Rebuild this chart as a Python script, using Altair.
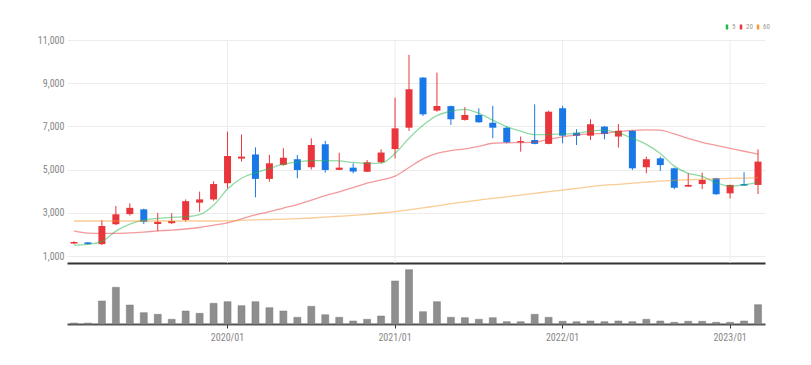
import altair as alt
import pandas as pd

months = ["2019/02","2019/03","2019/04","2019/05","2019/06","2019/07","2019/08","2019/09","2019/10","2019/11","2019/12",
          "2020/01","2020/02","2020/03","2020/04","2020/05","2020/06","2020/07","2020/08","2020/09","2020/10","2020/11","2020/12",
          "2021/01","2021/02","2021/03","2021/04","2021/05","2021/06","2021/07","2021/08","2021/09","2021/10","2021/11","2021/12",
          "2022/01","2022/02","2022/03","2022/04","2022/05","2022/06","2022/07","2022/08","2022/09","2022/10","2022/11","2022/12",
          "2023/01","2023/02","2023/03"]

open_ = [1580,1630,1550,2470,2940,3160,2480,2520,2670,3470,3620,
         4370,5510,5700,4570,5220,5480,5110,6170,4990,5090,4900,5340,
         5950,6940,9260,7730,7940,7300,7530,7170,6940,6260,6370,6190,
         7840,6710,6570,6990,6530,6800,5110,5520,5060,4210,4330,4600,
         3900,4330,4290]
high = [1680,1650,2670,3320,3440,3190,3000,2980,3620,3980,4460,
        6760,6620,6030,5680,5990,5680,6450,6330,5780,5290,5440,5940,
        8330,10310,9280,9490,7960,7890,7840,7950,6990,6530,8020,7730,
        7950,6870,7330,7020,7110,6820,5600,5600,5090,4830,4860,4620,
        4300,4880,5940]
low = [1550,1530,1500,2430,2870,2480,2150,2480,2600,3050,3560,
       4130,5370,3720,4440,5180,4600,5010,4860,4980,4830,4890,5290,
       5520,6790,7480,7680,7070,7270,7170,6450,6220,5830,6170,6170,
       6220,6140,6370,6400,6020,4980,4830,4940,4090,4200,4100,3830,
       3670,4240,3870]
close = [1650,1550,2390,2930,3230,2580,2580,2620,3540,3620,4330,
         5630,5600,4570,5290,5550,4980,6140,4980,5090,4910,5340,5790,
         6910,8720,7560,7945,7330,7530,7190,6940,6260,6320,6190,7680,
         6570,6570,7100,6650,6800,5060,5480,5210,4160,4290,4520,3860,
         4290,4260,5370]

ma5 = [1500,1540,1680,2150,2480,2660,2740,2790,2820,2920,3350,
       4100,4600,4850,5050,5250,5350,5420,5420,5400,5330,5290,5300,
       5750,6450,7050,7500,7700,7790,7600,7290,6990,6780,6620,6620,
       6650,6680,6780,6830,6700,6450,6170,5750,5160,4830,4690,4390,
       4230,4290,4420]
ma20 = [2160,2060,2050,2050,2070,2110,2160,2200,2250,2320,2430,
        2530,2720,2900,3050,3220,3380,3590,3800,3970,4170,4370,4520,
        4700,5100,5500,5750,5880,5960,6080,6220,6240,6250,6270,6400,
        6520,6600,6650,6680,6760,6820,6840,6830,6650,6450,6260,6120,
        5980,5850,5720]
ma60 = [2620,2620,2620,2620,2620,2620,2620,2620,2620,2620,2620,
        2630,2650,2670,2690,2710,2730,2760,2800,2840,2880,2930,2990,
        3050,3140,3230,3320,3420,3510,3590,3670,3740,3820,3900,3980,
        4050,4130,4210,4280,4320,4370,4420,4470,4500,4530,4550,4570,
        4590,4610,4630]

volume = [100,100,2300,3670,1900,1130,970,470,1300,1070,2070,
          2230,1830,2230,1630,1300,670,1770,930,670,300,470,800,
          4300,5430,1230,2230,670,630,470,630,230,230,970,670,
          270,230,300,230,300,230,470,300,170,270,270,170,
          170,300,1930]

year_ticks = ["2020/01", "2021/01", "2022/01", "2023/01"]
y_ticks = [1000, 3000, 5000, 7000, 9000, 11000]
ma_names = ["5", "20", "60"]

FONT = "Roboto Condensed, Liberation Sans Narrow, DejaVu Sans Condensed, Arial Narrow, sans-serif"
UP, DOWN = "#e8363c", "#1a78e6"

candles = pd.DataFrame({"month": months, "open": open_, "high": high, "low": low, "close": close})
candles["dir"] = ["up" if c >= o else "down" for o, c in zip(open_, close)]

ma_df = pd.concat([
    pd.DataFrame({"month": months, "value": v, "ma": n})
    for n, v in zip(ma_names, [ma5, ma20, ma60])
])

vol_df = pd.DataFrame({"month": months, "volume": volume})
grid_df = pd.DataFrame({"month": year_ticks})

W = 698
Y_DOMAIN = [676, 12250]
NOVIEW = alt.ViewConfig(stroke="transparent", strokeWidth=0)

xscale = alt.Scale(domain=months, paddingInner=0, paddingOuter=0)
x_top = alt.X("month:O", scale=xscale, sort=months,
              axis=alt.Axis(labels=False, ticks=False, title=None, grid=False,
                            domainColor="#333", domainWidth=2))
yscale = alt.Scale(domain=Y_DOMAIN, nice=False, zero=False)
y_axis = alt.Axis(values=y_ticks, labelExpr="format(datum.value, ',')", title=None, grid=True,
                  gridColor="#ececec", domain=False, ticks=False, labelColor="#888", labelFontSize=10,
                  labelFont=FONT, labelPadding=3, minExtent=54, maxExtent=54)

dir_color = alt.Color("dir:N", scale=alt.Scale(domain=["up", "down"], range=[UP, DOWN]), legend=None)

vgrid = alt.Chart(grid_df).mark_rule(color="#ececec", strokeWidth=1).encode(
    x=x_top,
    y=alt.YDatum(11000, scale=yscale, axis=y_axis),
    y2=alt.datum(Y_DOMAIN[0]),
)

wicks = alt.Chart(candles).mark_rule(strokeWidth=1).encode(
    x=x_top,
    y=alt.Y("low:Q", scale=yscale, axis=y_axis),
    y2="high:Q",
    color=dir_color,
)
bodies = alt.Chart(candles).mark_bar(size=7).encode(
    x=x_top,
    y=alt.Y("open:Q", scale=yscale, axis=y_axis),
    y2="close:Q",
    color=dir_color,
)
lines = alt.Chart(ma_df).mark_line(strokeWidth=1.3, strokeOpacity=0.5, interpolate="monotone").encode(
    x=x_top,
    y=alt.Y("value:Q", scale=yscale, axis=y_axis),
    color=alt.Color("ma:N", sort=ma_names,
                    scale=alt.Scale(domain=ma_names, range=["#22b84a", "#e8363c", "#f59a2e"]),
                    legend=alt.Legend(orient="none", legendX=656, legendY=10, direction="horizontal",
                                      title=None, symbolType="M0,-1L0,1", symbolSize=25,
                                      symbolOpacity=1, symbolStrokeWidth=2.5, gridAlign="none",
                                      labelFontSize=7, labelColor="#999", labelFont=FONT,
                                      labelOffset=1, columnPadding=0, padding=0)),
)

top = alt.layer(vgrid, wicks, bodies, lines).resolve_scale(color="independent").properties(
    width=W, height=250, view=NOVIEW)

x_bot = alt.X("month:O", scale=xscale, sort=months,
              axis=alt.Axis(values=year_ticks, title=None, grid=False, labelAngle=0,
                            tickSize=4, tickColor="#333", domainColor="#555", domainWidth=2,
                            labelColor="#888", labelFontSize=10, labelFont=FONT, labelPadding=4))
bottom = alt.Chart(vol_df).mark_bar(size=7, color="#8e8e8e", stroke="#7a7a7a", strokeWidth=0.5).encode(
    x=x_bot,
    y=alt.Y("volume:Q", scale=alt.Scale(domain=[0, 6000], nice=False),
            axis=alt.Axis(labels=False, ticks=False, domain=False, grid=False, title=None,
                          minExtent=54, maxExtent=54)),
).properties(width=W, height=60, view=NOVIEW)

chart = alt.vconcat(top, bottom, spacing=0).configure_view(stroke="transparent", strokeWidth=0).configure(
    background="white")

chart.save("out.html", embed_options={"renderer": "svg", "actions": False})
